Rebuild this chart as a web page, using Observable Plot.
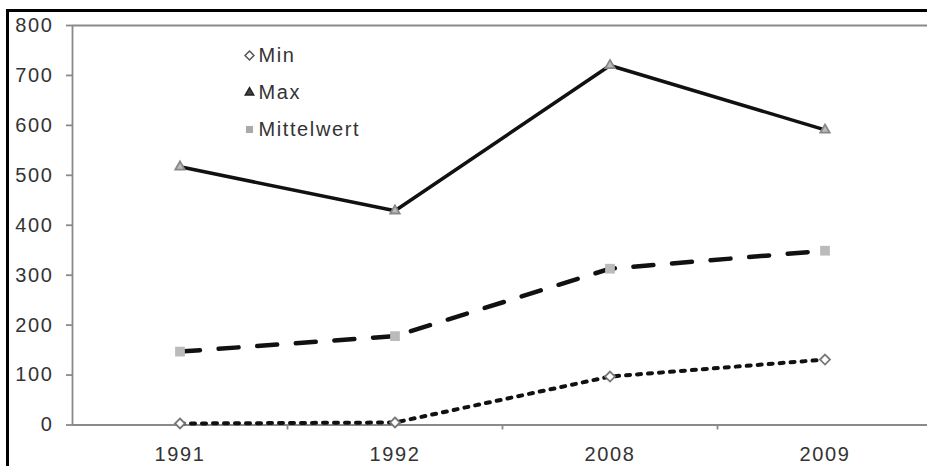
<!DOCTYPE html>
<html><head><meta charset="utf-8">
<script src="https://cdn.jsdelivr.net/npm/d3@7"></script>
<script src="https://cdn.jsdelivr.net/npm/@observablehq/plot@0.6"></script>
<style>
html,body{margin:0;padding:0;background:#fff;overflow:hidden;width:927px;height:466px;}
svg{display:block;max-width:none !important;}
</style></head><body>
<script>
const years = ["1991", "1992", "2008", "2009"];
const minValues = [3, 5, 97, 131];
const maxValues = [517, 429, 720, 591];
const meanValues = [147, 178, 313, 349];
const seriesNames = ["Min", "Max", "Mittelwert"];
const yTicks = [0, 100, 200, 300, 400, 500, 600, 700, 800];

const data = years.map((year, i) => ({year, min: minValues[i], max: maxValues[i], mean: meanValues[i]}));

const xRange = [72, 932];
const bw = (xRange[1] - xRange[0]) / years.length;
const axisGrey = "#8a8a8a";

const legendStyles = [
  {symbol: "diamond2", fill: "#fff", stroke: "#555", r: 4},
  {symbol: "triangle2", fill: "#444", stroke: "#222", r: 4},
  {symbol: "square", fill: "#aaa", stroke: "none", r: 4}
];

const legendMarks = seriesNames.flatMap((name, i) => [
  Plot.dot([name], {frameAnchor: "top-left", dx: 177, dy: 30 + i * 37, strokeWidth: 1.5, ...legendStyles[i]}),
  Plot.text([name], {frameAnchor: "top-left", dx: 186, dy: 30 + i * 37, text: d => d, textAnchor: "start", lineAnchor: "middle", fill: "#333"})
]);

const chart = Plot.plot({
  width: 945,
  height: 466,
  marginLeft: 72,
  marginRight: 0,
  marginTop: 25,
  marginBottom: 41.5,
  style: {fontFamily: "'Liberation Sans', Arial, sans-serif", fontSize: "20px", letterSpacing: "1.6px", color: "#333", background: "#fff"},
  x: {type: "band", domain: years, range: xRange, padding: 0, axis: null},
  y: {domain: [0, 800], axis: null},
  marks: [
    Plot.ruleY([0, 800], {stroke: axisGrey, strokeWidth: 1.8}),
    Plot.ruleX([years[0]], {x: d => d, dx: -bw / 2, y1: 0, y2: 800, stroke: axisGrey, strokeWidth: 1.8}),
    Plot.axisY({ticks: yTicks, tickSize: 6, tickPadding: 13, stroke: axisGrey, strokeWidth: 1.8, fill: "#333", label: null}),
    Plot.axisX({tickSize: 0, tickPadding: 22, fill: "#333", label: null}),
    Plot.ruleX(years.slice(1), {x: d => d, dx: -bw / 2, y1: 0, y2: -10, stroke: axisGrey, strokeWidth: 1.8}),
    Plot.line(data, {x: "year", y: "min", stroke: "#111", strokeWidth: 4, strokeDasharray: "4,7"}),
    Plot.line(data, {x: "year", y: "max", stroke: "#111", strokeWidth: 3.5}),
    Plot.line(data, {x: "year", y: "mean", stroke: "#111", strokeWidth: 4.5, strokeDasharray: "20,18.7"}),
    Plot.dot(data, {x: "year", y: "min", symbol: "diamond2", r: 4.5, fill: "#fff", stroke: "#777", strokeWidth: 1.8}),
    Plot.dot(data, {x: "year", y: "max", symbol: "triangle2", r: 4.5, fill: "#bbb", stroke: "#888", strokeWidth: 1.8}),
    Plot.dot(data, {x: "year", y: "mean", symbol: "square", r: 5.5, fill: "#bbb", stroke: "none"}),
    ...legendMarks
  ]
});
// decorative outer frame (top and left edges of the cropped picture)
d3.select(chart).append("path")
  .attr("d", "M7.5,470V10.5H950")
  .attr("fill", "none")
  .attr("stroke", "#000")
  .attr("stroke-width", 3);
document.body.append(chart);
</script>
</body></html>
